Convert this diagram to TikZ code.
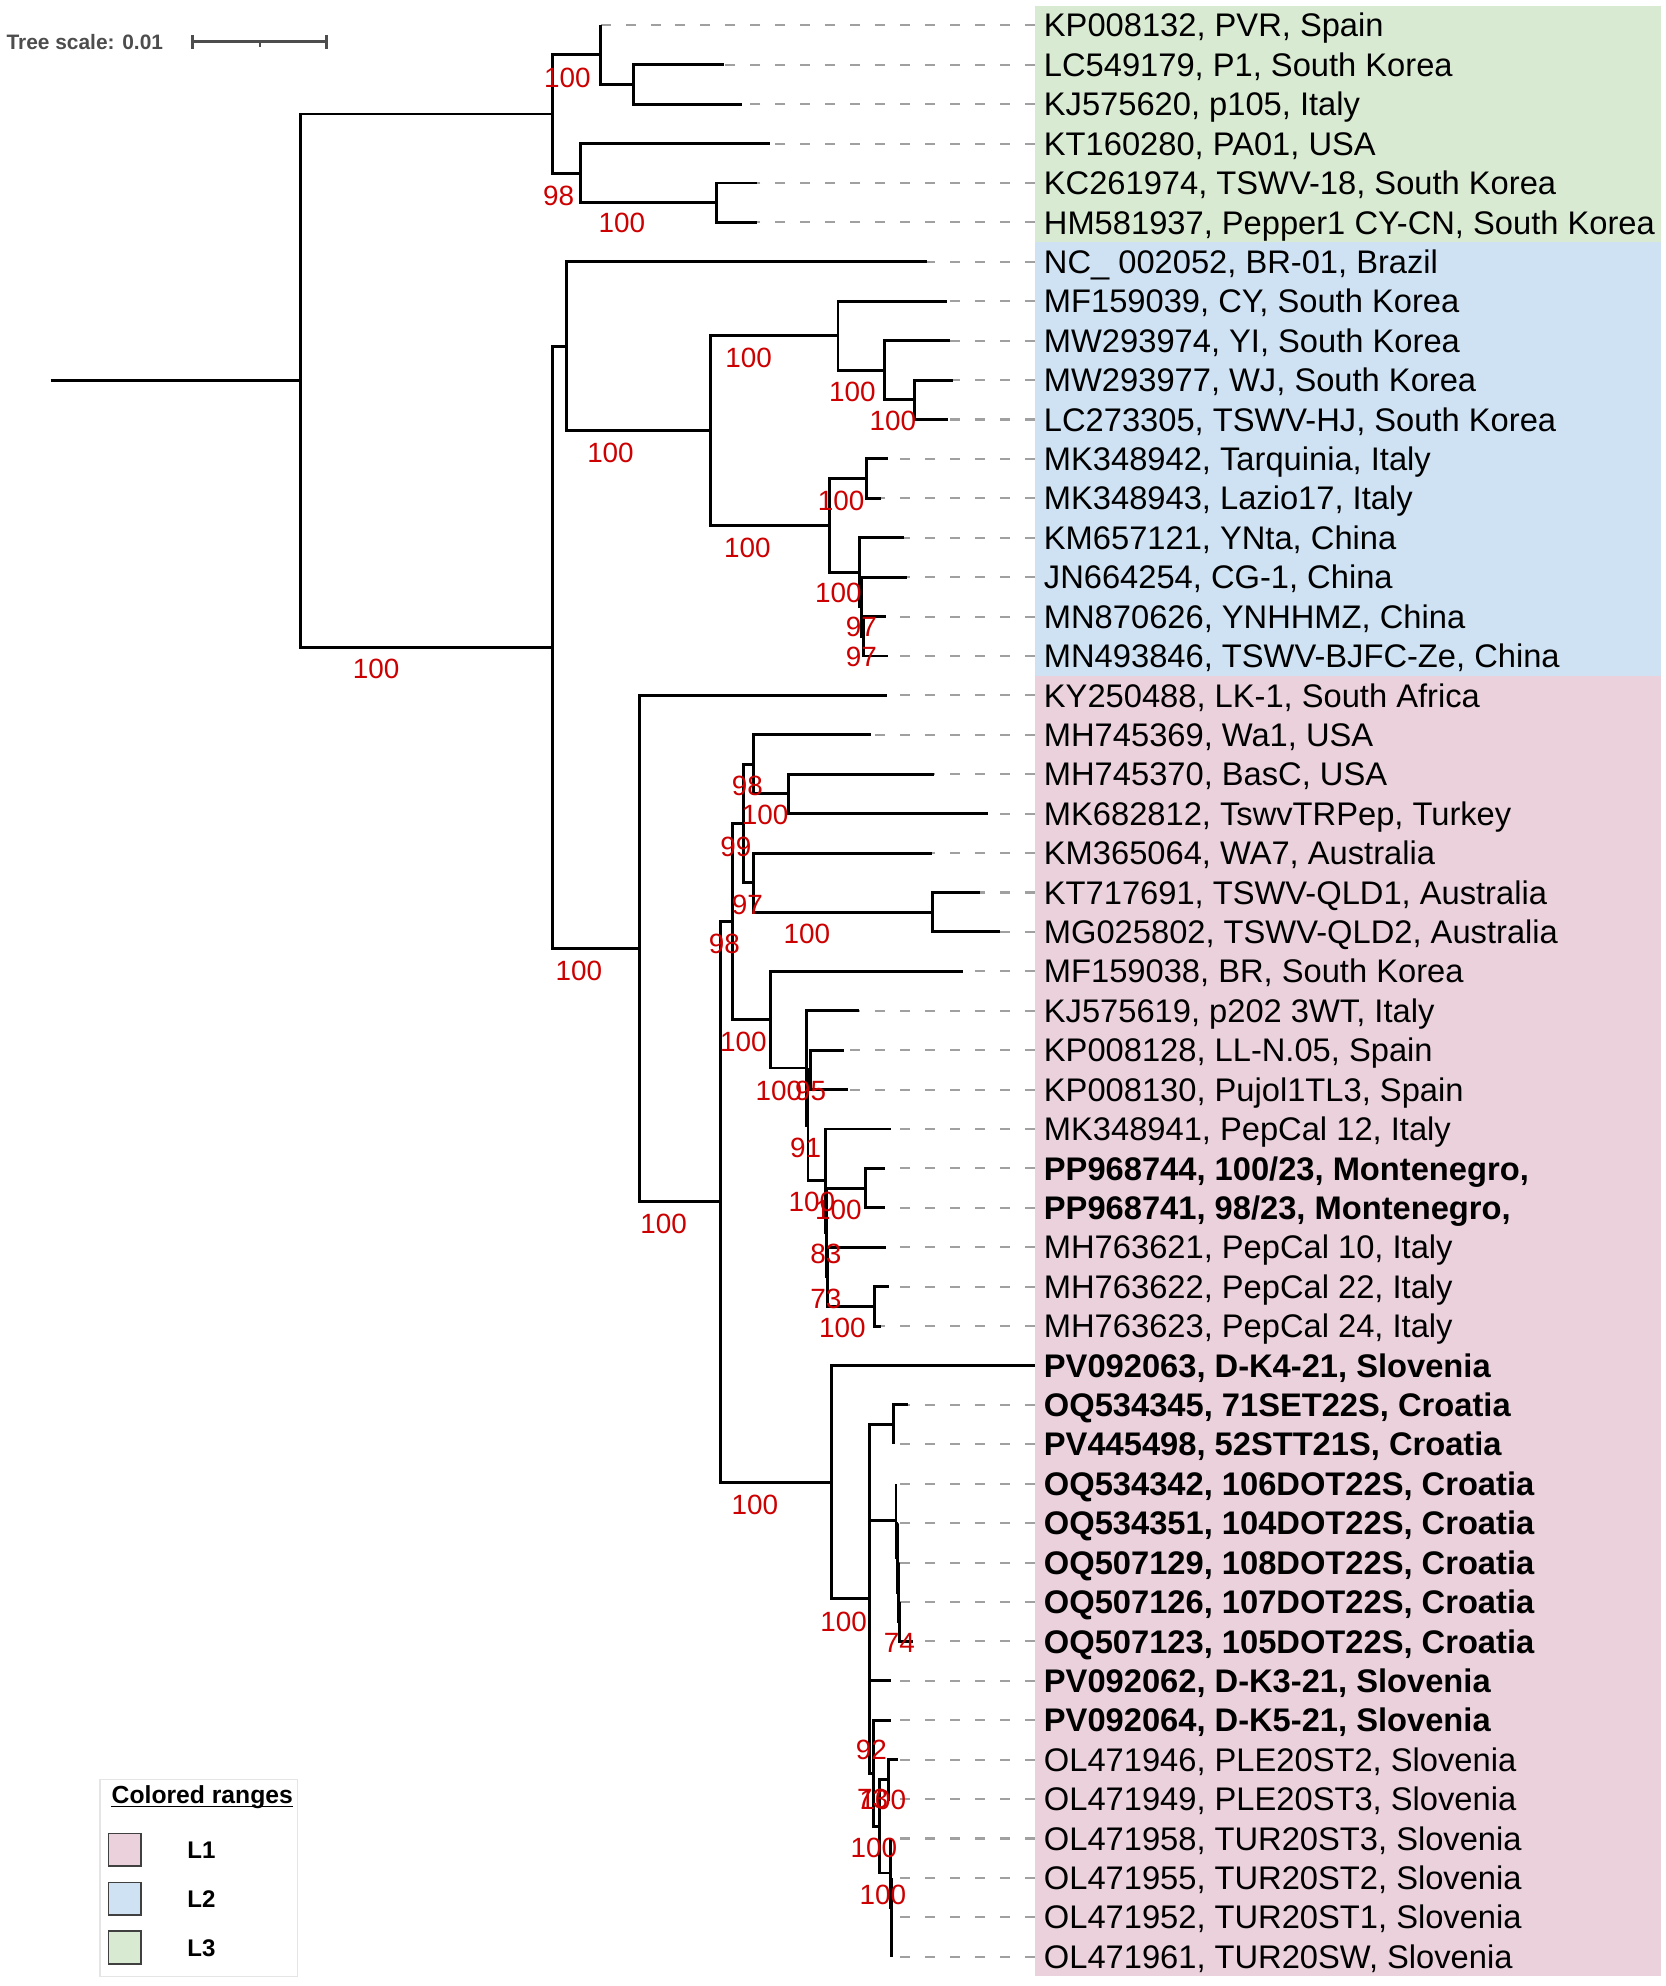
\documentclass[tikz,border=0pt]{standalone}
\usepackage{fontspec}
\setmainfont{Liberation Sans}
\definecolor{bandG}{HTML}{D9EAD3}
\definecolor{bandB}{HTML}{CFE2F3}
\definecolor{bandP}{HTML}{EAD1DC}
\definecolor{bsred}{HTML}{CC0000}
\definecolor{dashgray}{HTML}{A0A0A0}
\definecolor{scalegray}{HTML}{4D4D4D}
\tikzset{
 trb/.style={line width=2.3pt, black},
 dsh/.style={line width=1.6pt, dashgray, dash pattern=on 7.9pt off 11.8pt},
 lab/.style={anchor=west, inner xsep=7pt, inner ysep=0pt, text height=18.4pt, text depth=0pt, font=\fontsize{25.8}{30}\selectfont},
 bs/.style={inner sep=0pt, text height=15.75pt, text depth=0pt, text=bsred, font=\fontsize{22}{26}\selectfont},
 sq/.style={draw=black!75, line width=1.2pt, minimum size=25.8pt, inner sep=0pt},
 leg/.style={anchor=west, inner sep=0pt, text height=13.6pt, text depth=0pt, font=\fontsize{19}{23}\selectfont\bfseries},
}
\newcommand\leaf[5]{%
  \coordinate (t#1) at (#3,#4);
  \node[lab] (lab#1) at (817,#4) {#5};
  \draw[dsh] (lab#1.west) -- (t#1);
  \draw[trb] (#2) |- (t#1);
}
\begin{document}
\begin{tikzpicture}[x=1pt,y=-1pt]
\useasboundingbox (0,0) rectangle (1315,1568);
% coloured ranges
\fill[bandG] (817,4.44) rectangle (1311,191.16);
\fill[bandB] (817,191.16) rectangle (1311,533.48);
\fill[bandP] (817,533.48) rectangle (1311,1560.44);
% internal nodes
\coordinate (nStem) at (40,300.59);
\coordinate (nRoot) at (237,300.59);
\coordinate (nA) at (436,90.02);
\coordinate (nB) at (474,43.34);
\coordinate (nC) at (500,66.68);
\coordinate (nD) at (458,136.70);
\coordinate (nE) at (566,160.04);
\coordinate (nF) at (436,511.16);
\coordinate (nG) at (447.6,273.34);
\coordinate (nG2) at (561,339.95);
\coordinate (nN8) at (661.6,265.07);
\coordinate (nN9) at (698.6,292.30);
\coordinate (nN10) at (721.7,315.64);
\coordinate (nG3) at (654.6,414.84);
\coordinate (nN12) at (684.2,377.88);
\coordinate (nH) at (678.8,451.79);
\coordinate (nI) at (680.3,479.02);
\coordinate (nJ) at (681.4,502.36);
\coordinate (nK) at (504.6,748.98);
\coordinate (nL) at (569.1,948.92);
\coordinate (nM) at (578.1,727.62);
\coordinate (nN) at (587.3,650.18);
\coordinate (nO) at (594.6,603.50);
\coordinate (nP) at (622.5,626.84);
\coordinate (nQ) at (594.6,696.86);
\coordinate (nR) at (736.2,720.20);
\coordinate (nS) at (608.6,805.05);
\coordinate (nT) at (636.7,843.22);
\coordinate (nT2) at (637.9,888.44);
\coordinate (nU) at (639.9,844.68);
\coordinate (nV) at (651.8,932.21);
\coordinate (nV2) at (652.6,973.05);
\coordinate (nW) at (683.3,938.04);
\coordinate (nV3) at (653.4,1008.06);
\coordinate (nX) at (690.1,1031.40);
\coordinate (nY) at (656.4,1170.23);
\coordinate (nZ) at (686.7,1262.37);
\coordinate (nAA) at (705.1,1124.76);
\coordinate (nD38) at (707.4,1200.62);
\coordinate (nD39) at (708.3,1229.79);
\coordinate (nD40) at (709.2,1257.02);
\coordinate (nD41) at (710.0,1280.36);
\coordinate (nS2) at (689.6,1399.98);
\coordinate (nRr) at (694.1,1441.80);
\coordinate (nP45) at (701.2,1404.84);
\coordinate (nQ1) at (703.0,1478.75);
\coordinate (nQ2) at (703.5,1505.98);
\coordinate (nQ3) at (704.0,1529.32);
% leaves (dashed guides and labels)
\leaf{1}{nB}{474}{20.00}{KP008132, PVR, Spain}
\leaf{2}{nC}{572}{51.12}{LC549179, P1, South Korea}
\leaf{3}{nC}{586}{82.24}{KJ575620, p105, Italy}
\leaf{4}{nD}{608}{113.36}{KT160280, PA01, USA}
\leaf{5}{nE}{598}{144.48}{KC261974, TSWV-18, South Korea}
\leaf{6}{nE}{598}{175.60}{HM581937, Pepper1 CY-CN, South Korea}
\leaf{7}{nG}{732.1}{206.72}{NC\_ 002052, BR-01, Brazil}
\leaf{8}{nN8}{747.9}{237.84}{MF159039, CY, South Korea}
\leaf{9}{nN9}{750.4}{268.96}{MW293974, YI, South Korea}
\leaf{10}{nN10}{752.2}{300.08}{MW293977, WJ, South Korea}
\leaf{11}{nN10}{748.4}{331.20}{LC273305, TSWV-HJ, South Korea}
\leaf{12}{nN12}{701.4}{362.32}{MK348942, Tarquinia, Italy}
\leaf{13}{nN12}{695.2}{393.44}{MK348943, Lazio17, Italy}
\leaf{14}{nH}{713.8}{424.56}{KM657121, YNta, China}
\leaf{15}{nI}{716}{455.68}{JN664254, CG-1, China}
\leaf{16}{nJ}{699.8}{486.80}{MN870626, YNHHMZ, China}
\leaf{17}{nJ}{701.2}{517.92}{MN493846, TSWV-BJFC-Ze, China}
\leaf{18}{nK}{700.4}{549.04}{KY250488, LK-1, South Africa}
\leaf{19}{nO}{688}{580.16}{MH745369, Wa1, USA}
\leaf{20}{nP}{737.2}{611.28}{MH745370, BasC, USA}
\leaf{21}{nP}{780.1}{642.40}{MK682812, TswvTRPep, Turkey}
\leaf{22}{nQ}{735.9}{673.52}{KM365064, WA7, Australia}
\leaf{23}{nR}{774.1}{704.64}{KT717691, TSWV-QLD1, Australia}
\leaf{24}{nR}{789.3}{735.76}{MG025802, TSWV-QLD2, Australia}
\leaf{25}{nS}{760.4}{766.88}{MF159038, BR, South Korea}
\leaf{26}{nT}{678.3}{798.00}{KJ575619, p202 3WT, Italy}
\leaf{27}{nU}{666.2}{829.12}{KP008128, LL-N.05, Spain}
\leaf{28}{nU}{669.6}{860.24}{KP008130, Pujol1TL3, Spain}
\leaf{29}{nV}{703.8}{891.36}{MK348941, PepCal 12, Italy}
\leaf{30}{nW}{699.1}{922.48}{\bfseries PP968744, 100/23, Montenegro,}
\leaf{31}{nW}{699.1}{953.60}{\bfseries PP968741, 98/23, Montenegro,}
\leaf{32}{nV3}{699.9}{984.72}{MH763621, PepCal 10, Italy}
\leaf{33}{nX}{701.7}{1015.84}{MH763622, PepCal 22, Italy}
\leaf{34}{nX}{695.4}{1046.96}{MH763623, PepCal 24, Italy}
\leaf{35}{nY}{817}{1078.08}{\bfseries PV092063, D-K4-21, Slovenia}
\leaf{36}{nAA}{717}{1109.20}{\bfseries OQ534345, 71SET22S, Croatia}
\leaf{37}{nAA}{705.1}{1140.32}{\bfseries PV445498, 52STT21S, Croatia}
\leaf{38}{nD38}{707.4}{1171.44}{\bfseries OQ534342, 106DOT22S, Croatia}
\leaf{39}{nD39}{709.0}{1202.56}{\bfseries OQ534351, 104DOT22S, Croatia}
\leaf{40}{nD40}{709.8}{1233.68}{\bfseries OQ507129, 108DOT22S, Croatia}
\leaf{41}{nD41}{710.0}{1264.80}{\bfseries OQ507126, 107DOT22S, Croatia}
\leaf{42}{nD41}{720.9}{1295.92}{\bfseries OQ507123, 105DOT22S, Croatia}
\leaf{43}{nZ}{703.8}{1327.04}{\bfseries PV092062, D-K3-21, Slovenia}
\leaf{44}{nS2}{703.8}{1358.16}{\bfseries PV092064, D-K5-21, Slovenia}
\leaf{45}{nP45}{709.1}{1389.28}{OL471946, PLE20ST2, Slovenia}
\leaf{46}{nP45}{703}{1420.40}{OL471949, PLE20ST3, Slovenia}
\leaf{47}{nQ1}{703}{1451.52}{OL471958, TUR20ST3, Slovenia}
\leaf{48}{nQ2}{703.5}{1482.64}{OL471955, TUR20ST2, Slovenia}
\leaf{49}{nQ3}{704}{1513.76}{OL471952, TUR20ST1, Slovenia}
\leaf{50}{nQ3}{704}{1544.88}{OL471961, TUR20SW, Slovenia}
% internal branches
\draw[trb] (nStem) -- (nRoot);
\draw[trb] (nRoot) |- (nA);
\draw[trb] (nA) |- (nB);
\draw[trb] (nB) |- (nC);
\draw[trb] (nA) |- (nD);
\draw[trb] (nD) |- (nE);
\draw[trb] (nRoot) |- (nF);
\draw[trb] (nF) |- (nG);
\draw[trb] (nG) |- (nG2);
\draw[trb] (nG2) |- (nN8);
\draw[trb] (nN8) |- (nN9);
\draw[trb] (nN9) |- (nN10);
\draw[trb] (nG2) |- (nG3);
\draw[trb] (nG3) |- (nN12);
\draw[trb] (nG3) |- (nH);
\draw[trb] (nH) |- (nI);
\draw[trb] (nI) |- (nJ);
\draw[trb] (nF) |- (nK);
\draw[trb] (nK) |- (nL);
\draw[trb] (nL) |- (nM);
\draw[trb] (nM) |- (nN);
\draw[trb] (nN) |- (nO);
\draw[trb] (nO) |- (nP);
\draw[trb] (nN) |- (nQ);
\draw[trb] (nQ) |- (nR);
\draw[trb] (nM) |- (nS);
\draw[trb] (nS) |- (nT);
\draw[trb] (nT) |- (nT2);
\draw[trb] (nT2) |- (nU);
\draw[trb] (nT2) |- (nV);
\draw[trb] (nV) |- (nV2);
\draw[trb] (nV2) |- (nW);
\draw[trb] (nV2) |- (nV3);
\draw[trb] (nV3) |- (nX);
\draw[trb] (nL) |- (nY);
\draw[trb] (nY) |- (nZ);
\draw[trb] (nZ) |- (nAA);
\draw[trb] (nZ) |- (nD38);
\draw[trb] (nD38) |- (nD39);
\draw[trb] (nD39) |- (nD40);
\draw[trb] (nD40) |- (nD41);
\draw[trb] (nZ) |- (nS2);
\draw[trb] (nS2) |- (nRr);
\draw[trb] (nRr) |- (nP45);
\draw[trb] (nRr) |- (nQ1);
\draw[trb] (nQ1) |- (nQ2);
\draw[trb] (nQ2) |- (nQ3);
% bootstrap values
\node[bs] (b1) at (448,61) {100};
\node[bs] (b2) at (441,154) {98};
\node[bs] (b3) at (491,176) {100};
\node[bs] (b4) at (297,528) {100};
\node[bs] (b5) at (482,357) {100};
\node[bs] (b6) at (591,282) {100};
\node[bs] (b7) at (673,309) {100};
\node[bs] (b8) at (705,332) {100};
\node[bs] (b9) at (590,432) {100};
\node[bs] (b10) at (664,395) {100};
\node[bs] (b11) at (662,468) {100};
\node[bs] (b12) at (680,495) {97};
\node[bs] (b13) at (680,518) {97};
\node[bs] (b14) at (457,766) {100};
\node[bs] (b15) at (572,745) {98};
\node[bs] (b16) at (581,668) {99};
\node[bs] (b17) at (590,620) {98};
\node[bs] (b18) at (604,643) {100};
\node[bs] (b19) at (590,714) {97};
\node[bs] (b20) at (637,737) {100};
\node[bs] (b21) at (587,822) {100};
\node[bs] (b22) at (524,966) {100};
\node[bs] (b23) at (615,861) {100};
\node[bs] (b24) at (640,861) {95};
\node[bs] (b25) at (636,906) {91};
\node[bs] (b26) at (641,949) {100};
\node[bs] (b27) at (662,955) {100};
\node[bs] (b28) at (652,990) {83};
\node[bs] (b29) at (652,1025) {73};
\node[bs] (b30) at (665,1048) {100};
\node[bs] (b31) at (596,1188) {100};
\node[bs] (b32) at (666,1280) {100};
\node[bs] (b33) at (710,1297) {74};
\node[bs] (b34) at (688,1381) {92};
\node[bs] (b35) at (689,1420) {73};
\node[bs] (b36) at (697,1421) {100};
\node[bs] (b37) at (690,1459) {100};
\node[bs] (b38) at (697,1496) {100};
% tree scale
\node[anchor=west, inner sep=0pt, text height=12pt, text depth=0pt, text=scalegray, font=\fontsize{16.5}{19}\selectfont\bfseries] (tsc) at (5,33) {Tree scale: 0.01};
\coordinate (sbL) at (152,33);
\coordinate (sbR) at (258,33);
\draw[scalegray, line width=2.6pt] (sbL) -- (sbR);
\draw[scalegray, line width=2.2pt] ([yshift=-5.5pt]sbL) -- ([yshift=5.5pt]sbL);
\draw[scalegray, line width=2.2pt] ([yshift=-5.5pt]sbR) -- ([yshift=5.5pt]sbR);
\draw[scalegray, line width=1.5pt] (205,33) -- (205,37);
% legend
\draw[black!10, line width=1pt, fill=white] (79,1405) rectangle (234.7,1560.7);
\node[anchor=base west, inner sep=0pt, font=\fontsize{19.5}{23}\selectfont\bfseries] (legT) at (88,1424.2) {Colored ranges};
\draw[black, line width=1.3pt] (legT.base west) ++(0,2.2) coordinate (ulA) -- (ulA -| legT.base east);
\node[sq, fill=bandP] (sq1) at (98.4,1460.3) {};
\node[sq, fill=bandB] (sq2) at (98.4,1499.2) {};
\node[sq, fill=bandG] (sq3) at (98.4,1537.6) {};
\node[leg] (lg1) at (147.8,1460.3) {L1};
\node[leg] (lg2) at (147.8,1499.2) {L2};
\node[leg] (lg3) at (147.8,1537.6) {L3};
\end{tikzpicture}
\end{document}
